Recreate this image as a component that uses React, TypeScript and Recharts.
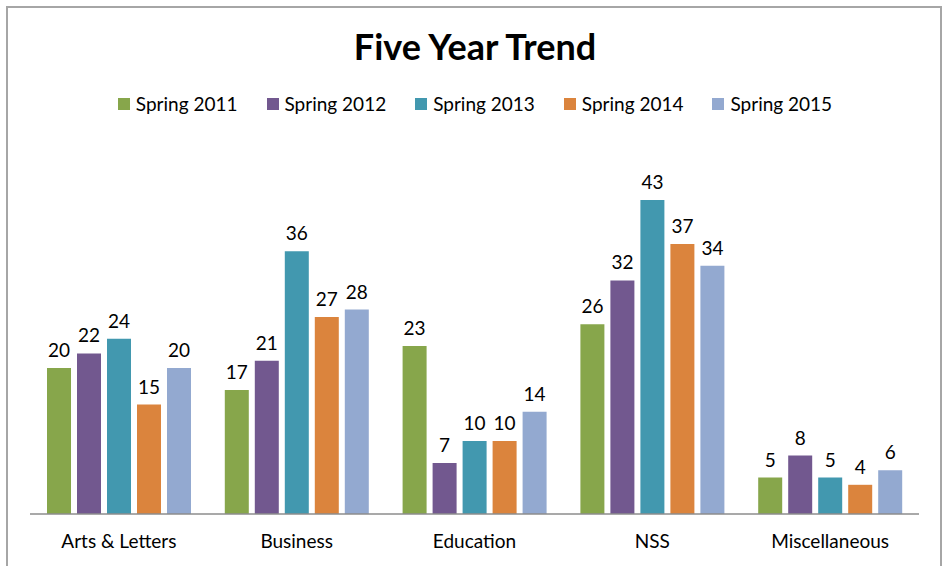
import { Bar, BarChart, LabelList, XAxis, YAxis } from "recharts";

const categories = ["Arts & Letters", "Business", "Education", "NSS", "Miscellaneous"];
const spring2011 = [20, 17, 23, 26, 5];
const spring2012 = [22, 21, 7, 32, 8];
const spring2013 = [24, 36, 10, 43, 5];
const spring2014 = [15, 27, 10, 37, 4];
const spring2015 = [20, 28, 14, 34, 6];

const SERIES = [
  { key: "s2011", name: "Spring 2011", color: "#87A64B", values: spring2011 },
  { key: "s2012", name: "Spring 2012", color: "#72588F", values: spring2012 },
  { key: "s2013", name: "Spring 2013", color: "#4298AF", values: spring2013 },
  { key: "s2014", name: "Spring 2014", color: "#DB843D", values: spring2014 },
  { key: "s2015", name: "Spring 2015", color: "#93A9D0", values: spring2015 },
];

const data = categories.map((name, i) => {
  const row: Record<string, string | number> = { name };
  SERIES.forEach((s) => (row[s.key] = s.values[i]));
  return row;
});

const FONT = "Lato, 'Liberation Sans', sans-serif";

function LegendRow() {
  return (
    <div style={{ display: "flex", justifyContent: "center", gap: 29, fontFamily: FONT, fontSize: 19, color: "#000" }}>
      {SERIES.map((s) => (
        <div key={s.key} style={{ display: "flex", alignItems: "center", gap: 6 }}>
          <span style={{ display: "inline-block", width: 12, height: 12, background: s.color }} />
          {s.name}
        </div>
      ))}
    </div>
  );
}

export default function App() {
  return (
    <div style={{ position: "fixed", left: 0, top: 0, width: 943, height: 566, background: "#fff", overflow: "hidden" }}>
      {/* chart frame */}
      <div style={{ position: "absolute", left: 6, top: 6, width: 932, height: 600, border: "2px solid #a6a6a6" }} />
      <div
        style={{
          position: "absolute",
          left: 0,
          top: 24,
          width: 950,
          textAlign: "center",
          fontFamily: FONT,
          fontWeight: 700,
          fontSize: 36,
          color: "#000",
        }}
      >
        Five Year Trend
      </div>
      <div style={{ position: "absolute", left: 0, top: 92, width: 950 }}>
        <LegendRow />
      </div>
      <div style={{ position: "absolute", left: 0, top: 0 }}>
        <BarChart
          width={943}
          height={566}
          data={data}
          margin={{ top: 149, right: 24, left: 30, bottom: 22 }}
          barSize={24}
          barGap={6}
        >
          <YAxis hide domain={[0, 50]} />
          <XAxis
            dataKey="name"
            height={30}
            tickLine={false}
            axisLine={{ stroke: "#8c8c8c", strokeWidth: 1.5 }}
            tick={{ fontSize: 19, fill: "#000", fontFamily: FONT }}
            tickMargin={15}
            interval={0}
          />
          {SERIES.map((s) => (
            <Bar key={s.key} dataKey={s.key} name={s.name} fill={s.color} isAnimationActive={false}>
              <LabelList
                dataKey={s.key}
                position="top"
                offset={11}
                style={{ fontSize: 19, fill: "#000", fontFamily: FONT }}
              />
            </Bar>
          ))}
        </BarChart>
      </div>
    </div>
  );
}
